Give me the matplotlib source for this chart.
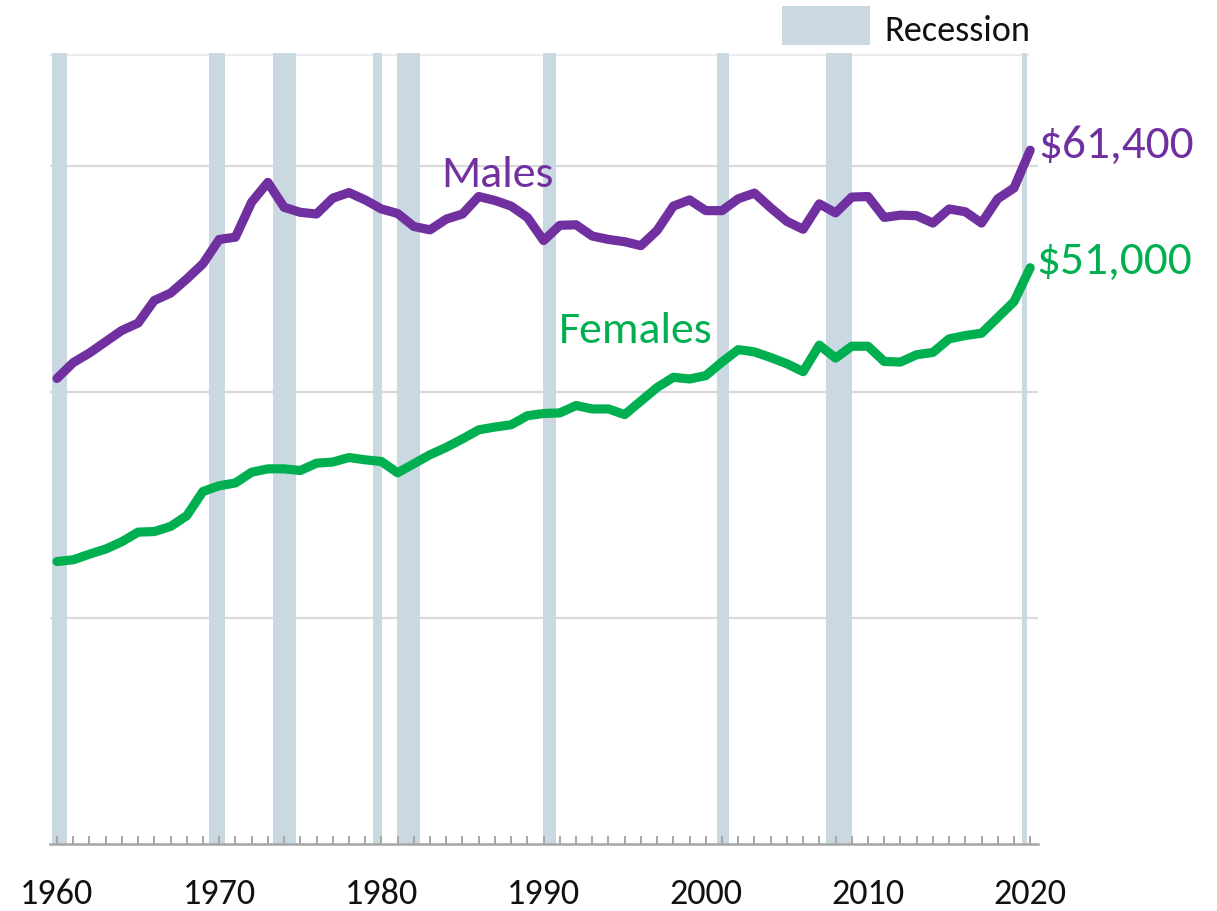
import matplotlib
matplotlib.use("Agg")
import matplotlib.pyplot as plt
from matplotlib.patches import Rectangle
from matplotlib import font_manager

# ---------------- data ----------------
years = list(range(1960, 2021))
males = [41200, 42600, 43450, 44450, 45450, 46100, 48100, 48750, 50000, 51350,
         53500, 53700, 56800, 58550, 56350, 55900, 55750, 57150, 57650, 57000,
         56200, 55800, 54650, 54350, 55300, 55750, 57300, 56950, 56450, 55450,
         53400, 54750, 54800, 53800, 53500, 53300, 52950, 54300, 56450, 57000,
         56050, 56050, 57100, 57600, 56300, 55100, 54400, 56650, 55850, 57250,
         57300, 55450, 55650, 55600, 54950, 56200, 55950, 54950, 57100, 58050,
         61400]
females = [25000, 25150, 25650, 26100, 26750, 27600, 27650, 28100, 29050, 31200,
           31700, 31950, 32900, 33200, 33200, 33050, 33700, 33800, 34200, 34000,
           33850, 32850, 33650, 34450, 35100, 35850, 36650, 36900, 37100, 37900,
           38100, 38150, 38800, 38500, 38500, 38000, 39200, 40400, 41300, 41150,
           41450, 42650, 43750, 43550, 43050, 42500, 41800, 44150, 43000, 44050,
           44050, 42700, 42650, 43300, 43500, 44700, 45000, 45200, 46600, 48000,
           51000]
recession_start = [1959.69, 1969.37, 1973.32, 1979.48, 1980.96, 1989.96, 2000.69, 2007.41, 2019.50]
recession_end = [1960.62, 1970.36, 1974.73, 1980.04, 1982.38, 1990.76, 2001.43, 2009.01, 2019.80]
decade_ticks = [1960, 1970, 1980, 1990, 2000, 2010, 2020]
series_labels = ["Males", "Females"]
end_labels = ["$61,400", "$51,000"]

# ---------------- style ----------------
installed = {f.name for f in font_manager.fontManager.ttflist}
FONT = next((f for f in ["Carlito", "Lato", "Open Sans", "DejaVu Sans"] if f in installed), "DejaVu Sans")
plt.rcParams["font.family"] = [FONT, "DejaVu Sans"]

PURPLE = "#7030A0"
GREEN = "#00B050"
REC = "#CAD8E1"
GRID = "#D9D9D9"
AXIS = "#A6A6A6"

W, H = 1217, 912
fig = plt.figure(figsize=(W / 100, H / 100), dpi=100)
ax = fig.add_axes([50 / W, (H - 845) / H, (1038 - 50) / W, (845 - 54) / H])

ax.set_xlim(1959.57, 2020.48)
ax.set_ylim(0, 70000)

for s, e in zip(recession_start, recession_end):
    ax.axvspan(s, e, color=REC, lw=0, zorder=1)

for gy in [20000, 40000, 60000]:
    ax.axhline(gy, color=GRID, lw=1.6, zorder=0.5)
ax.axhline(69800, xmin=0.0, xmax=0.99, color="#EBEBEB", lw=1.4, zorder=0.5, clip_on=False)

lw = 6.6
ax.plot(years, males, color=PURPLE, lw=lw, solid_capstyle="round", solid_joinstyle="round", zorder=3)
ax.plot(years, females, color=GREEN, lw=lw, solid_capstyle="round", solid_joinstyle="round", zorder=3)

# axes styling
for sp in ["left", "right", "top"]:
    ax.spines[sp].set_visible(False)
ax.spines["bottom"].set_color(AXIS)
ax.spines["bottom"].set_linewidth(1.8)
ax.set_yticks([])
ax.set_xticks(decade_ticks)
ax.set_xticklabels([str(t) for t in decade_ticks])
ax.set_xticks(years, minor=True)
ax.tick_params(axis="x", which="both", direction="in", length=6, width=1.4, color=AXIS,
               labelsize=26, pad=24, labelcolor="#111111")

# series labels
ax.text(1987.13, 58230, series_labels[0], color=PURPLE, fontsize=33, ha="center", va="baseline", zorder=4)
ax.text(1995.67, 44430, series_labels[1], color=GREEN, fontsize=33, ha="center", va="baseline", zorder=4)

ax.annotate(end_labels[0], xy=(years[-1], males[-1]), xytext=(6, -5), textcoords="offset points",
            color=PURPLE, fontsize=34, ha="left", va="baseline", annotation_clip=False)
ax.annotate(end_labels[1], xy=(years[-1], females[-1]), xytext=(4.5, -3.5), textcoords="offset points",
            color=GREEN, fontsize=34, ha="left", va="baseline", annotation_clip=False)

# legend
fig.patches.append(Rectangle((782 / W, (H - 46) / H), 88 / W, 39 / H, transform=fig.transFigure,
                             color=REC, lw=0))
fig.text(884 / W, (H - 31) / H, "Recession", fontsize=26, ha="left", va="center", color="#111111")

fig.savefig("out.png", dpi=100)
